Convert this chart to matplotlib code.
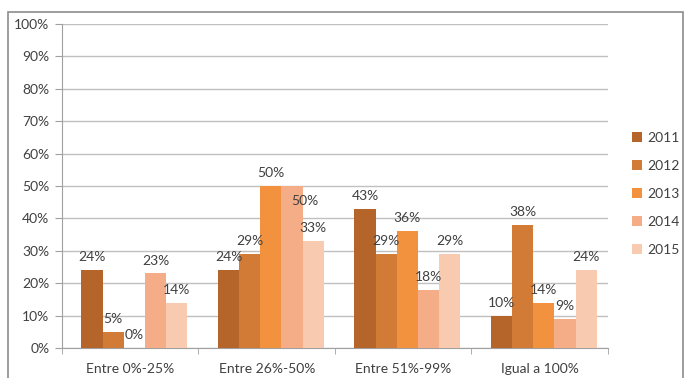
import numpy as np
import matplotlib
matplotlib.use("Agg")
import matplotlib.pyplot as plt
from matplotlib.patches import Rectangle

# data
categories = ["Entre 0%-25%", "Entre 26%-50%", "Entre 51%-99%", "Igual a 100%"]
years = ["2011", "2012", "2013", "2014", "2015"]
v2011 = [24, 24, 43, 10]
v2012 = [5, 29, 29, 38]
v2013 = [0, 50, 36, 14]
v2014 = [23, 50, 18, 9]
v2015 = [14, 33, 29, 24]
series = [v2011, v2012, v2013, v2014, v2015]
colors = ["#B5652A", "#D27B36", "#F2913E", "#F5AD88", "#F8CAAF"]

plt.rcParams['font.family'] = ['Lato', 'DejaVu Sans']

fig = plt.figure(figsize=(6.85, 3.78), dpi=100)
ax = fig.add_axes([0.0905, 0.0794, 0.797, 0.857])

# outer frame of the chart area
fig.patches.append(Rectangle((0.0117, -0.1), 0.985, 1.068, transform=fig.transFigure,
                             fill=False, edgecolor="#8c8c8c", linewidth=1.2))

# labels that Excel nudged to avoid overlap: (series, category) -> offset in points
nudge = {(3, 1): (9, -15)}

x = np.arange(len(categories))
w = 0.155
for i, (vals, c, yr) in enumerate(zip(series, colors, years)):
    xs = x + (i - 2) * w + 0.03
    ax.bar(xs, vals, width=w, color=c, label=yr, zorder=3)
    for j, v in enumerate(vals):
        ax.annotate(f"{v}%", (xs[j], v), xytext=nudge.get((i, j), (0, 5)),
                    textcoords="offset points", ha="center", va="bottom",
                    fontsize=10, color="#404040", zorder=4)

ax.set_xlim(-0.5, 3.5)
ax.set_ylim(0, 100)
ax.set_yticks(range(0, 101, 10))
ax.set_yticklabels([f"{t}%" for t in range(0, 101, 10)], fontsize=10, color="#404040")
ax.set_xticks(x)
ax.set_xticklabels(categories, fontsize=10, color="#404040")
ax.tick_params(axis="x", length=0, pad=11)
ax.set_xticks(np.arange(-0.5, 4, 1), minor=True)
ax.tick_params(axis="x", which="minor", length=4, color="#a0a0a0")
ax.tick_params(axis="y", length=5, color="#a0a0a0", pad=4)

ax.yaxis.grid(True, color="#c0c0c0", linewidth=1, zorder=0)
for s in ["top", "right"]:
    ax.spines[s].set_visible(False)
ax.spines["left"].set_color("#a0a0a0")
ax.spines["bottom"].set_color("#a0a0a0")

fig.legend(loc="upper left", bbox_to_anchor=(0.915, 0.665), frameon=False,
           fontsize=10, handlelength=0.7, handleheight=0.7, handletextpad=0.4,
           labelspacing=1.15, borderaxespad=0, labelcolor="#404040")

fig.savefig("out.png", dpi=100)
